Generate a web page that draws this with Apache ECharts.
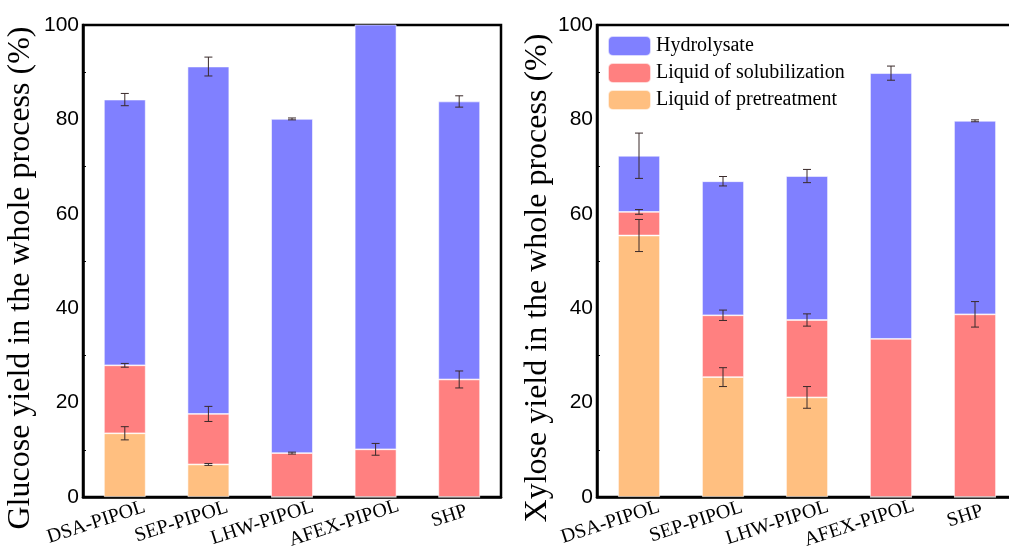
<!DOCTYPE html>
<html><head><meta charset="utf-8">
<script src="https://cdn.jsdelivr.net/npm/echarts@6/dist/echarts.min.js"></script>
<style>html,body{margin:0;padding:0;background:#fff;}#c{width:1009px;height:548px;}</style>
</head><body><div id="c"></div>
<script>
var categories = ['DSA-PIPOL','SEP-PIPOL','LHW-PIPOL','AFEX-PIPOL','SHP'];
var yTicks = [0,20,40,60,80,100];
// Glucose (left)
var gluPre = [13.5, 6.9, 0, 0, 0];
var gluSol = [14.4, 10.7, 9.3, 10.1, 24.9];
var gluHyd = [56.3, 73.6, 70.8, 90.0, 58.9];
var gluPreErr = [1.4, 0.2, 0, 0, 0];
var gluSolErr = [0.4, 1.6, 0.2, 1.25, 1.8];
var gluHydErr = [1.3, 2.0, 0.2, 0, 1.2];
// Xylose (right)
var xylPre = [55.4, 25.4, 21.1, 0, 0];
var xylSol = [5.0, 13.1, 16.4, 33.5, 38.7];
var xylHyd = [11.9, 28.4, 30.5, 56.3, 41.0];
var xylPreErr = [3.4, 2.0, 2.3, 0, 0];
var xylSolErr = [0.5, 1.1, 1.3, 0, 2.7];
var xylHydErr = [4.8, 1.0, 1.4, 1.5, 0.2];

var names = ['Hydrolysate','Liquid of solubilization','Liquid of pretreatment'];
var colors = {'Hydrolysate':'#8080FF','Liquid of solubilization':'#FF8080','Liquid of pretreatment':'#FFBF80'};
var SERIF = '"Liberation Serif","Times New Roman",serif';
var SANS = '"Liberation Sans",Arial,sans-serif';
var XFONT = 20;

var mctx = document.createElement('canvas').getContext('2d');
mctx.font = XFONT + 'px ' + SERIF;
function catItems(){
  return categories.map(function(c){
    var w = mctx.measureText(c).width;
    return {value:c, textStyle:{padding:[0, -Math.round(0.21*w), 0, 0]}};
  });
}

function errData(pre, sol, hyd, ePre, eSol, eHyd){
  var out = [];
  for (var i=0;i<categories.length;i++){
    var c1 = pre[i], c2 = pre[i]+sol[i], c3 = pre[i]+sol[i]+hyd[i];
    if (pre[i]>0 && ePre[i]>0) out.push([i, c1, ePre[i]]);
    if (sol[i]>0 && eSol[i]>0) out.push([i, c2, eSol[i]]);
    if (hyd[i]>0 && eHyd[i]>0) out.push([i, c3, eHyd[i]]);
  }
  return out;
}
function renderErr(params, api){
  var x = api.value(0), y = api.value(1), e = api.value(2);
  var top = api.coord([x, y+e]), bot = api.coord([x, y-e]);
  var cx = top[0], hw = 4;
  var st = {stroke:'#3a2a2a', lineWidth:1};
  return {type:'group', children:[
    {type:'line', shape:{x1:cx,y1:top[1],x2:cx,y2:bot[1]}, style:st},
    {type:'line', shape:{x1:cx-hw,y1:top[1],x2:cx+hw,y2:top[1]}, style:st},
    {type:'line', shape:{x1:cx-hw,y1:bot[1],x2:cx+hw,y2:bot[1]}, style:st}
  ]};
}
function bars(idx, pre, sol, hyd){
  var arr = [['Liquid of pretreatment',pre],['Liquid of solubilization',sol],['Hydrolysate',hyd]];
  return arr.map(function(a){
    return {type:'bar', name:a[0], stack:'s'+idx, xAxisIndex:idx, yAxisIndex:idx, barWidth:'50%',
      data:a[1], itemStyle:{color:colors[a[0]], borderColor:'rgba(255,255,255,0.7)', borderWidth:0.8}, z:2};
  });
}
function xAx(idx){
  return {type:'category', gridIndex:idx, data:catItems(),
    axisLine:{lineStyle:{color:'#000',width:2.5}},
    axisTick:{inside:true, alignWithLabel:true, interval:0, length:4, lineStyle:{color:'#000',width:2}},
    axisLabel:{interval:0, hideOverlap:false, rotate:18, fontFamily:SERIF, fontSize:XFONT, color:'#000', margin:16}};
}
function yAx(idx, name, gap){
  return {type:'value', gridIndex:idx, min:0, max:100, interval:20,
    name:name, nameLocation:'middle', nameGap:gap,
    nameTextStyle:{fontFamily:SERIF, fontSize:32, color:'#000', padding:[0,34,0,0]},
    axisLine:{show:true, lineStyle:{color:'#000',width:2.5}},
    axisTick:{inside:true, length:5, lineStyle:{color:'#000',width:1.5}},
    minorTick:{show:true, splitNumber:2, length:3, lineStyle:{color:'#000',width:1}},
    splitLine:{show:false},
    axisLabel:{fontFamily:SANS, fontSize:21, color:'#000', margin:4,
      formatter:function(v){return yTicks.indexOf(v)>=0? String(v):'';}}};
}
var chart = echarts.init(document.getElementById('c'));
chart.setOption({
  animation:false,
  backgroundColor:'#fff',
  legend:{data:names, orient:'vertical', left:607, top:35, padding:0, itemGap:5,
    itemWidth:43, itemHeight:20, textStyle:{fontFamily:SERIF, fontSize:20, color:'#000'}},
  grid:[
    {left:83, top:25, width:418, height:472, show:true, borderColor:'#000', borderWidth:2.5, backgroundColor:'transparent', outerBoundsMode:'none', containLabel:false},
    {left:597, top:25, width:420, height:472, show:true, borderColor:'#000', borderWidth:2.5, backgroundColor:'transparent', outerBoundsMode:'none', containLabel:false}
  ],
  xAxis:[xAx(0), xAx(1)],
  yAxis:[yAx(0,'Glucose yield in the whole process (%)',46), yAx(1,'Xylose yield in the whole process (%)',41)],
  series: bars(0, gluPre, gluSol, gluHyd).concat(bars(1, xylPre, xylSol, xylHyd)).concat([
    {type:'custom', xAxisIndex:0, yAxisIndex:0, renderItem:renderErr, clip:true, z:5,
      data:errData(gluPre,gluSol,gluHyd,gluPreErr,gluSolErr,gluHydErr)},
    {type:'custom', xAxisIndex:1, yAxisIndex:1, renderItem:renderErr, clip:true, z:5,
      data:errData(xylPre,xylSol,xylHyd,xylPreErr,xylSolErr,xylHydErr)}
  ])
});
</script></body></html>
